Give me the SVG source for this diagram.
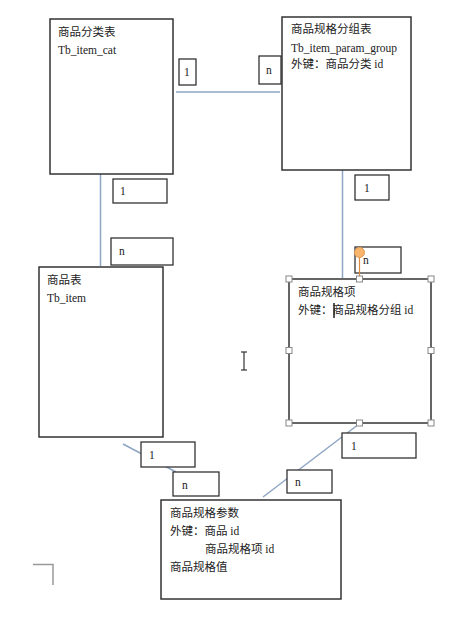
<svg xmlns="http://www.w3.org/2000/svg" width="468" height="620" viewBox="0 0 468 620">
<style>
.box{fill:#fff;stroke:#333;stroke-width:1.5}
.lbl{fill:#fff;stroke:#333;stroke-width:1.3}
.t{font-family:"Liberation Serif","Noto Sans CJK SC",serif;font-size:11.5px;fill:#222}
.c{stroke:#8ea6c4;stroke-width:1.5;fill:none}
.h{fill:#fff;stroke:#888;stroke-width:1}
</style>
<rect width="468" height="620" fill="#fff"/>
<g id="connectors">
<line class="c" x1="176" y1="92" x2="280" y2="92"/>
<line class="c" x1="100.5" y1="174" x2="100.5" y2="266"/>
<line class="c" x1="342.5" y1="170" x2="342.5" y2="278"/>
<line class="c" x1="123" y1="444" x2="176" y2="472"/>
<line class="c" x1="359" y1="424" x2="263" y2="497"/>
</g>
<g id="cat">
<rect class="box" x="50" y="19" width="123" height="155"/>
<text class="t" x="58" y="36">商品分类表</text>
<text class="t" x="58" y="54">Tb_item_cat</text>
</g>
<g id="group">
<rect class="box" x="282" y="17" width="129" height="153"/>
<text class="t" x="291" y="33">商品规格分组表</text>
<text class="t" x="291" y="52">Tb_item_param_group</text>
<text class="t" x="291" y="68">外键：商品分类 id</text>
</g>
<g id="item">
<rect class="box" x="39" y="267" width="124" height="170"/>
<text class="t" x="47" y="284">商品表</text>
<text class="t" x="47" y="302">Tb_item</text>
</g>
<g id="paramkey">
<rect class="box" x="289" y="279" width="142" height="144"/>
<text class="t" x="298" y="296">商品规格项</text>
<text class="t" x="298" y="314">外键：商品规格分组 id</text>
<line x1="334" y1="303" x2="334" y2="318" stroke="#222" stroke-width="1.5"/>
</g>
<g id="paramvalue">
<rect class="box" x="161" y="500" width="180" height="99"/>
<text class="t" x="170" y="517">商品规格参数</text>
<text class="t" x="170" y="535">外键：商品 id</text>
<text class="t" x="205" y="553">商品规格项 id</text>
<text class="t" x="170" y="571">商品规格值</text>
</g>
<g id="labels">
<rect class="lbl" x="179" y="59" width="17" height="26"/>
<text class="t" x="184" y="76">1</text>
<rect class="lbl" x="259" y="56" width="22" height="28"/>
<text class="t" x="266" y="74">n</text>
<rect class="lbl" x="113" y="179" width="54" height="24"/>
<text class="t" x="120" y="195">1</text>
<rect class="lbl" x="111" y="238" width="62" height="27"/>
<text class="t" x="119" y="255">n</text>
<rect class="lbl" x="355" y="175" width="34" height="25"/>
<text class="t" x="364" y="192">1</text>
<rect class="lbl" x="355" y="247" width="46" height="26"/>
<text class="t" x="363" y="264">n</text>
<rect class="lbl" x="141" y="442" width="54" height="25"/>
<text class="t" x="149" y="459">1</text>
<rect class="lbl" x="173" y="472" width="46" height="24"/>
<text class="t" x="182" y="489">n</text>
<rect class="lbl" x="342" y="433" width="74" height="25"/>
<text class="t" x="351" y="450">1</text>
<rect class="lbl" x="287" y="470" width="45" height="23"/>
<text class="t" x="295" y="486">n</text>
</g>
<g id="selection">
<line x1="359.5" y1="257" x2="359.5" y2="276" stroke="#e08a40" stroke-width="1.2"/>
<circle cx="359.5" cy="252.5" r="5" fill="#f7b56e" stroke="#e39a52" stroke-width="1"/>
<rect class="h" x="286" y="276" width="6" height="6"/>
<rect class="h" x="356.5" y="276" width="6" height="6"/>
<rect class="h" x="428" y="276" width="6" height="6"/>
<rect class="h" x="286" y="347.5" width="6" height="6"/>
<rect class="h" x="428" y="347.5" width="6" height="6"/>
<rect class="h" x="286" y="420" width="6" height="6"/>
<rect class="h" x="356.5" y="420" width="6" height="6"/>
<rect class="h" x="428" y="420" width="6" height="6"/>
</g>
<g id="cursor" stroke="#333" stroke-width="1.2" fill="none">
<line x1="244" y1="352" x2="244" y2="370"/>
<line x1="241" y1="352" x2="247" y2="352"/>
<line x1="241" y1="370" x2="247" y2="370"/>
</g>
<g id="corner" stroke="#999" stroke-width="1.5" fill="none">
<polyline points="33,564.5 53,564.5 53,585"/>
</g>
</svg>
